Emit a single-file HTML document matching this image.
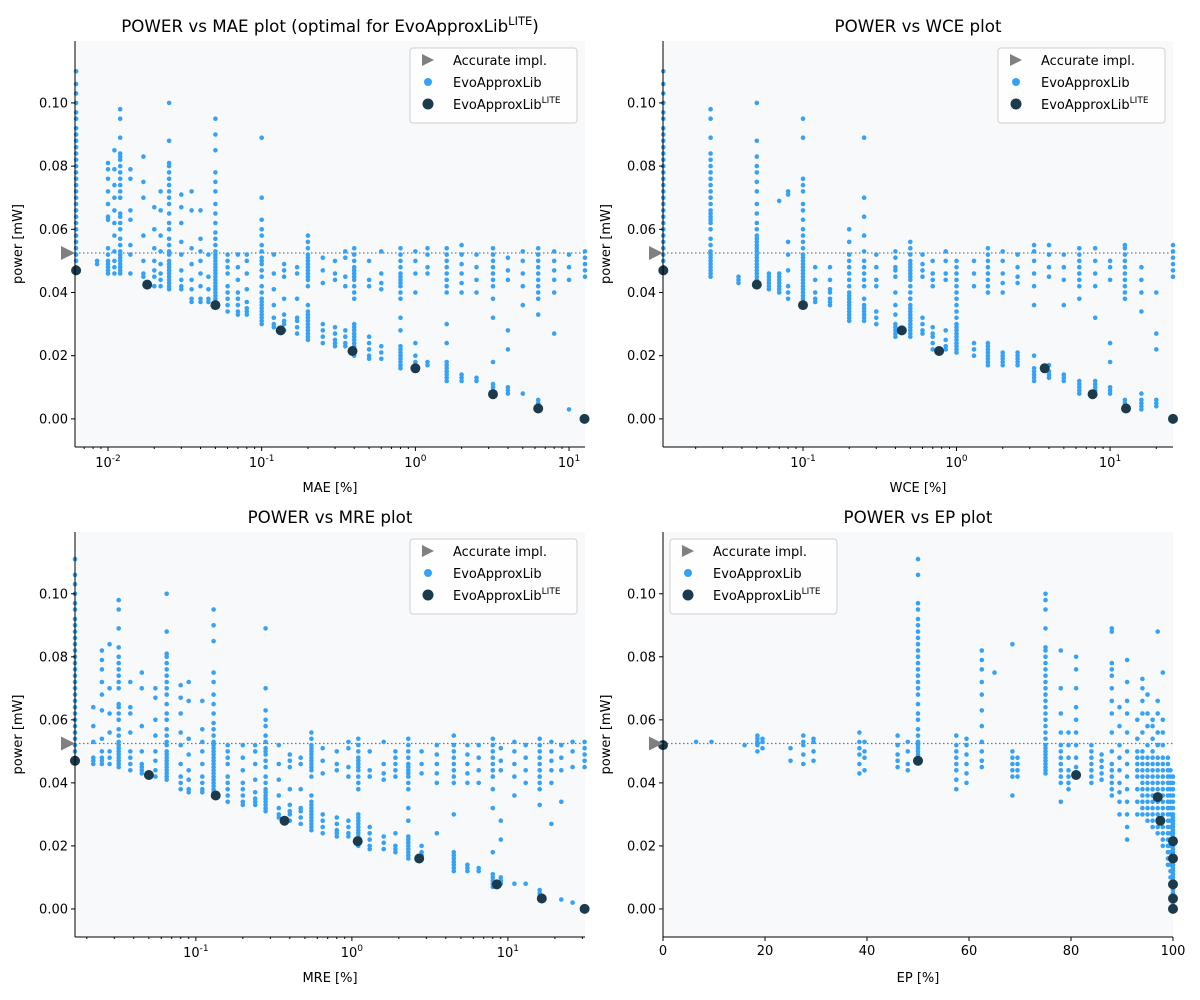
<!DOCTYPE html>
<html><head><meta charset="utf-8"><style>
html,body{margin:0;padding:0;background:#fff;}
svg{display:block;font-family:"DejaVu Sans","Liberation Sans",sans-serif;}
</style></head><body>
<svg id="fig" width="1200" height="1000" viewBox="0 0 1200 1000" xmlns="http://www.w3.org/2000/svg"></svg>
<script>
const yTicks = [0.00, 0.02, 0.04, 0.06, 0.08, 0.10];
const accuratePower = 0.0525;

const maeX = [0.0062,0.0085,0.01,0.011,0.012,0.014,0.017,0.02,0.022,0.025,0.03,0.035,0.04,0.045,0.05,0.06,0.07,0.08,0.1,0.12,0.14,0.17,0.2,0.25,0.3,0.35,0.4,0.5,0.6,0.8,1.0,1.2,1.6,2.0,2.5,3.2,4,5,6.3,8,10,12.7];
const maeP = [
[47,48,50,52,54,56,58,60,62,64,66,68,70,72,74,76,78,80,82,84,86,88,90,92,95,97,100,103,106,110],
[49,50],
[46,47,48,49,50,52,54,63,64,68,72,76,79,81],
[46,48,50,53,58,62,66,70,74,79,85],
[46,47,48,49,50,51,52,53,55,57,60,62,64,65,70,72,74,76,78,80,82,83,84,89,95,98],
[46,52,55,63,66,76,79],
[45,46,50,58,70,75,83],
[42,45,47,50,54,60,67],
[42,44,46,49,53,58,66,72],
[41,42,43,44,45,46,47,48,49,50,52,53,55,57,60,62,65,68,70,72,74,76,78,80,81,88,100],
[41,42,44,47,52,56,62,67,71],
[37,38,41,44,49,54,66,72],
[37,38,42,46,50,53,57,66],
[37,38,41,45,52],
[36,37,38,39,40,41,42,43,44,45,46,47,48,49,50,51,52,53,55,57,59,62,65,68,72,75,78,85,90,95],
[34,36,38,40,42,46,48,50,52],
[33,34,36,38,40,44,48,52],
[33,34,35,37,41,46,50,52],
[30,31,32,33,34,35,36,37,38,40,42,45,47,49,50,51,53,55,58,60,63,70,89],
[29,30,32,36,41,46,52],
[28,30,31,33,38,45,47,49],
[27,29,31,32,38,46,48],
[25,26,27,28,29,30,31,32,33,34,36,42,44,45,46,47,48,49,50,51,52,54,56,58],
[24,26,28,30,43,47,51],
[23,24,25,27,29,44,46,50],
[23,24,26,28,42,45,51,53],
[20,21,22,23,24,25,26,27,28,29,30,38,40,42,44,45,46,47,48,50,52,54],
[19,20,22,24,26,42,44,50],
[19,21,23,41,43,46,53],
[16,17,18,19,20,21,22,23,28,32,38,40,42,43,44,45,46,48,50,52,54],
[16,18,20,24,40,46,50,53],
[17,18,46,48,52,54],
[12,13,14,15,16,17,18,24,30,40,42,44,46,48,50,52,54],
[12,13,14,40,43,46,49,52,55],
[12,13,40,44,48,52],
[7,8,9,10,11,18,32,38,42,44,46,48,50,52,54],
[8,9,10,22,28,44,47,51],
[8,36,42,46,50,53],
[3,4,5,6,33,38,40,42,44,46,48,50,52,54],
[27,40,44,47,50,53],
[3,44,48,52],
[0,45,47,49,51,53]];
const maeLiteX = [0.0062,0.018,0.05,0.133,0.39,1.0,3.2,6.3,12.6];
const maeLiteP = [47,42.5,36,28,21.5,16,7.8,3.3,0];

const wceX = [0.0123,0.025,0.038,0.05,0.06,0.07,0.08,0.1,0.12,0.15,0.2,0.25,0.3,0.4,0.5,0.6,0.7,0.85,1.0,1.3,1.6,2.0,2.5,3.2,4,5,6.3,8,10,12.5,16,20,25.7];
const wceP = [
[47,48,50,52,54,56,58,60,62,64,66,68,70,72,74,76,78,80,82,84,86,88,90,92,95,97,100,103,106,110],
[45,46,47,48,49,50,51,52,53,55,57,60,62,63,64,65,66,68,70,72,74,76,78,80,82,84,89,95,98],
[43,44,45],
[42,43,44,45,46,47,48,49,50,51,52,53,54,55,56,57,58,60,62,65,68,72,75,78,80,83,88,100],
[41,42,43,44,45,46],
[40,41,42,43,44,45,46,69],
[38,40,42,47,52,56,71,72],
[36,37,38,39,40,41,42,43,44,45,46,47,48,49,50,51,52,54,56,58,60,63,66,68,72,74,76,89,95],
[37,38,40,44,48],
[36,37,38,40,41,44,48],
[31,32,33,34,35,36,37,38,39,40,42,44,46,48,50,52,56,60],
[31,32,33,34,35,36,38,42,44,46,48,50,53,58,64,70,89],
[30,32,34,42,44,48,52],
[26,27,28,29,30,33,36,40,45,47,48,51,53],
[26,27,28,29,30,31,32,33,34,35,36,38,40,42,44,45,46,47,48,49,50,52,54,56],
[27,28,30,32,45,47,49,52],
[22,24,26,27,29,42,44,46,50],
[22,23,25,28,44,46,50,53],
[21,22,23,24,25,26,27,28,29,30,32,34,36,38,40,42,44,46,48,50],
[20,22,24,42,46,50],
[17,18,19,20,21,22,23,24,40,42,44,46,48,50,52,54],
[17,18,19,20,21,40,43,46,50,53],
[17,18,19,20,21,43,45,48,52],
[12,13,14,15,16,20,36,42,46,50,53,55],
[13,14,15,17,45,48,52,55],
[12,13,14,36,44,48,52],
[8,9,10,11,12,38,42,44,46,48,50,52,54],
[8,9,10,11,12,32,42,46,50,54],
[8,9,10,18,24,44,48,50],
[3,4,5,6,38,40,42,44,46,48,50,52,54,55],
[3,4,5,6,8,34,40,44,48],
[4,5,6,22,27,40],
[0,45,47,49,51,53,55]];
const wceLiteX = [0.0123,0.05,0.1,0.44,0.77,3.75,7.7,12.7,25.7];
const wceLiteP = [47,42.5,36,28,21.5,16,7.8,3.3,0];

const mreX = [0.0168,0.022,0.025,0.028,0.032,0.038,0.045,0.055,0.065,0.08,0.09,0.11,0.13,0.16,0.2,0.24,0.28,0.34,0.4,0.47,0.55,0.65,0.8,0.95,1.1,1.3,1.6,1.9,2.3,2.8,3.5,4.5,5.5,6.5,8,9,11,13,16,19,22,26,31];
const mreP = [
[47,48,50,52,54,56,58,60,62,64,66,68,70,72,74,76,78,80,82,84,86,88,90,92,95,97,100,103,106,111],
[46,47,48,53,58,64],
[46,47,48,50,54,63,68,72,76,79,82],
[46,48,50,56,62,70,84],
[45,46,47,48,49,50,51,52,53,55,57,60,62,64,65,70,72,74,76,78,80,83,89,95,98],
[44,46,48,50,56,62,64,72],
[43,44,45,46,50,58,70,75],
[42,44,47,50,55,60,67,70],
[41,42,43,44,45,46,47,48,49,50,52,53,55,57,60,62,65,68,70,72,74,76,78,80,81,88,100],
[38,40,42,46,52,56,62,67,71],
[37,38,41,44,49,54,66,72],
[37,38,40,42,46,50,53,57,66],
[36,37,38,39,40,41,42,43,44,45,46,47,48,49,50,51,52,53,55,57,59,62,65,68,72,75,85,90,95],
[34,36,38,40,42,46,48,50,52],
[33,34,36,38,40,44,48,52],
[33,34,35,37,41,46,50,52],
[31,32,33,34,35,36,37,38,40,42,45,47,49,50,51,53,55,58,60,63,70,89],
[29,30,32,36,41,46,52],
[28,30,31,33,38,45,47,49],
[27,29,31,32,38,46,48],
[25,26,27,28,29,30,31,32,33,34,36,42,44,45,46,47,48,49,50,51,52,54,56],
[24,26,28,30,43,47,51],
[23,24,25,27,29,44,46,50],
[23,24,26,28,42,45,51,53],
[20,21,22,23,24,25,26,27,28,29,30,38,40,42,44,45,46,47,48,50,52,54],
[19,20,22,24,26,42,44,50],
[19,21,23,41,43,46,53],
[18,19,20,24,42,44,46,48,50],
[16,17,18,19,20,21,22,23,28,32,38,40,42,43,44,45,46,48,50,52,54],
[17,18,20,43,46,50],
[24,40,43,46,49,52],
[12,13,14,15,16,17,18,30,40,42,44,46,48,50,52,55],
[12,13,14,40,43,46,49,52],
[12,13,40,44,48,52],
[7,8,9,10,11,18,32,38,42,44,46,48,50,52,54],
[8,9,10,22,28,44,47,51],
[8,36,42,46,50,53],
[8,40,44,48,52],
[3,4,5,6,33,38,40,42,44,46,48,50,52,54],
[27,40,44,47,50,53],
[3,34,44,48,52],
[2,45,50,53],
[0,45,47,49,51,53]];
const mreLiteX = [0.0168,0.05,0.134,0.37,1.09,2.7,8.5,16.5,31];
const mreLiteP = [47,42.5,36,28,21.5,16,7.8,3.3,0];

const epX = [0,6.5,9.5,16,18.5,19.5,25,27.5,29.5,38.5,39.5,46,48,50,57.5,59.5,62.5,65,68.5,69.5,75,78,79.5,81,84,86,88,89.5,91,93,94,95,96,97,98,99,99.5,100];
const epP = [
[52],[53],[53],[52],
[50,52,53,54,55],[51,53,54],
[47,51],[46,49,52,53,55],[47,50,53,54],
[43,46,49,51,53,56],[44,48,50,53],
[45,47,49,52,55],[44,46,50,53],
[47,48,49,50,51,52,53,55,57,60,62,65,68,70,72,74,76,78,80,82,84,86,88,90,92,95,97,106,111],
[38,41,44,46,48,50,52,55],[40,43,46,49,52,54],
[45,47,50,53,58,63,68,72,76,79,82],
[75],
[36,42,44,46,48,50,84],[42,44,46,48],
[43,44,45,46,47,48,49,50,51,52,54,56,58,60,62,64,66,68,70,72,74,76,78,80,82,83,89,95,98,100],
[34,40,42,44,46,48,50,52,56,62,70,82],[38,40,42,44,48,52,56],
[43,45,48,52,56,60,64,70,76,80],
[40,42,44,46,48,50,52],[41,43,45,47,49],
[36,38,40,42,44,46,50,56,62,66,70,74,76,78,88,89],
[30,34,37,40,44,48,52,58,64],
[22,26,30,34,38,42,46,50,56,62,66,72,79],
[30,34,38,42,44,46,48,50,54,60],
[30,32,34,36,38,40,42,44,46,48,50,56,62,66,70,73],
[28,30,32,34,36,38,40,42,44,46,48,52,58,62,68],
[26,28,30,32,34,36,38,40,42,44,46,48,50,54,58,60],
[24,26,28,30,32,34,36,38,40,42,44,46,48,52,56,62,66,88],
[20,22,24,26,28,30,32,34,36,38,40,42,44,46,48,52,56,60,75],
[14,16,18,20,22,24,26,28,30,32,34,36,38,40,42,44,46,48],
[10,12,14,16,18,20,22,24,26,28,30,32,34,36,38,40,42,44],
[0,1,2,3,4,5,6,7,8,9,10,11,12,13,14,15,16,17,18,19,20,21,22,23,24,25,26,27,28,29,30,32,34,36,38,40,42]];
const epLiteX = [0,50,81,97,97.5,100,100,100,100,100];
const epLiteP = [52,47,42.5,35.5,28,21.5,16,7.8,3.3,0];

const NS = 'http://www.w3.org/2000/svg';
const fig = document.getElementById('fig');
const BLUE = '#36a2f5', DARK = '#1b3a4b';
const Y0 = -0.0089, Y1 = 0.1196;
function mk(tag, attrs, parent) {
  const e = document.createElementNS(NS, tag);
  for (const k in attrs) e.setAttribute(k, attrs[k]);
  (parent || fig).appendChild(e);
  return e;
}
function panel(cfg) {
  const g = mk('g', {});
  
  
  const {L, T, W, H} = cfg;
  const yS = v => T + H - (v - Y0) / (Y1 - Y0) * H;
  const xS = cfg.log
    ? v => L + (Math.log10(v) - Math.log10(cfg.x0)) / (Math.log10(cfg.x1) - Math.log10(cfg.x0)) * W
    : v => L + (v - cfg.x0) / (cfg.x1 - cfg.x0) * W;
  const bg = mk('rect', {x: L, y: T, width: W, height: H, fill: '#f8f9fb'}, g);
  
  
  const al = mk('line', {x1: L, x2: L + W, y1: yS(accuratePower), y2: yS(accuratePower), stroke: '#777', 'stroke-width': 1.3, 'stroke-dasharray': '1.5,2.5'}, g);
  
  
  const pts = mk('g', {fill: BLUE}, g);
  
  
  cfg.xs.forEach((x, i) => {
    cfg.ps[i].forEach(p => {
      const c = mk('circle', {cx: xS(x).toFixed(1), cy: yS(p / 1000).toFixed(1), r: 2.3}, pts);
      
      
    });
  });
  const lite = mk('g', {fill: DARK}, g);
  
  
  cfg.lx.forEach((x, i) => {
    const c = mk('circle', {cx: xS(x).toFixed(1), cy: yS(cfg.lp[i] / 1000).toFixed(1), r: 5}, lite);
    
    
  });
  const ay = yS(accuratePower);
  const tri = mk('polygon', {points: `${L-14},${ay-7} ${L},${ay} ${L-14},${ay+7}`, fill: '#808080'}, g);
  
  
  mk('line', {x1: L, x2: L, y1: T, y2: T + H, stroke: '#000', 'stroke-width': 1}, g);
  mk('line', {x1: L, x2: L + W, y1: T + H, y2: T + H, stroke: '#000', 'stroke-width': 1}, g);
  yTicks.forEach(v => {
    const y = yS(v);
    mk('line', {x1: L - 4, x2: L, y1: y, y2: y, stroke: '#000'}, g);
    const t = mk('text', {x: L - 7, y: y + 4.5, 'text-anchor': 'end', 'font-size': 13}, g);
    t.textContent = v.toFixed(2);
    
    
  });
  const by = T + H;
  if (cfg.log) {
    for (let d = Math.floor(Math.log10(cfg.x0)); d <= Math.ceil(Math.log10(cfg.x1)); d++) {
      for (let m = 1; m < 10; m++) {
        const v = m * Math.pow(10, d);
        if (v < cfg.x0 || v > cfg.x1) continue;
        const x = xS(v);
        mk('line', {x1: x, x2: x, y1: by, y2: by + (m === 1 ? 4 : 2), stroke: '#000'}, g);
        if (m === 1) {
          const t = mk('text', {x: x, y: by + 20, 'text-anchor': 'middle', 'font-size': 13}, g);
          
          
          t.appendChild(document.createTextNode('10'));
          const s = mk('tspan', {dy: -6, 'font-size': 9}, t);
          s.textContent = String(d);
        }
      }
    }
  } else {
    cfg.ticks.forEach(v => {
      const x = xS(v);
      mk('line', {x1: x, x2: x, y1: by, y2: by + 4, stroke: '#000'}, g);
      const t = mk('text', {x: x, y: by + 18, 'text-anchor': 'middle', 'font-size': 13}, g);
      t.textContent = String(v);
      
      
    });
  }
  const xl = mk('text', {x: L + W / 2, y: by + 45, 'text-anchor': 'middle', 'font-size': 13}, g);
  xl.textContent = cfg.xlabel;
  
  
  const yl = mk('text', {x: 0, y: 0, 'text-anchor': 'middle', 'font-size': 13, transform: `translate(${L-53},${T+H/2}) rotate(-90)`}, g);
  yl.textContent = 'power [mW]';
  
  
  const ti = mk('text', {x: L + W / 2, y: T - 9, 'text-anchor': 'middle', 'font-size': 16.7}, g);
  
  
  ti.appendChild(document.createTextNode(cfg.title));
  if (cfg.titleLite) {
    const s = mk('tspan', {dy: -7, 'font-size': 11.5}, ti);
    s.textContent = 'LITE';
    const e = mk('tspan', {dy: 7}, ti);
    e.textContent = ')';
  }
  const lx = cfg.legLeft ? L + 7 : L + W - 175, ly = T + 7;
  const lg = mk('g', {}, g);
  
  
  mk('rect', {x: lx, y: ly, width: 167, height: 75, rx: 3, fill: '#fff', 'fill-opacity': 0.85, stroke: '#d0d0d0'}, lg);
  const entries = [['Accurate impl.', 'tri'], ['EvoApproxLib', 'blue'], ['EvoApproxLib', 'dark']];
  entries.forEach((en, i) => {
    const cy = ly + 12 + i * 22;
    const cx = lx + 18;
    if (en[1] === 'tri') mk('polygon', {points: `${cx-6},${cy-6} ${cx+6},${cy} ${cx-6},${cy+6}`, fill: '#808080'}, lg);
    else mk('circle', {cx: cx, cy: cy, r: en[1] === 'blue' ? 4 : 5.5, fill: en[1] === 'blue' ? BLUE : DARK}, lg);
    const t = mk('text', {x: lx + 43, y: cy + 5, 'font-size': 13}, lg);
    
    
    t.appendChild(document.createTextNode(en[0]));
    if (en[1] === 'dark') {
      const s = mk('tspan', {dy: -6, 'font-size': 9}, t);
      s.textContent = 'LITE';
    }
  });
}
panel({name: 'mae', L: 75, T: 41, W: 510, H: 406, log: true, x0: 0.0061, x1: 12.7, xs: maeX, ps: maeP, lx: maeLiteX, lp: maeLiteP, xlabel: 'MAE [%]', title: 'POWER vs MAE plot (optimal for EvoApproxLib', titleLite: true});
panel({name: 'wce', L: 663, T: 41, W: 510, H: 406, log: true, x0: 0.01225, x1: 25.7, xs: wceX, ps: wceP, lx: wceLiteX, lp: wceLiteP, xlabel: 'WCE [%]', title: 'POWER vs WCE plot'});
panel({name: 'mre', L: 75, T: 532, W: 510, H: 405, log: true, x0: 0.0168, x1: 31.2, xs: mreX, ps: mreP, lx: mreLiteX, lp: mreLiteP, xlabel: 'MRE [%]', title: 'POWER vs MRE plot'});
panel({name: 'ep', L: 663, T: 532, W: 510, H: 405, log: false, x0: 0, x1: 100, ticks: [0,20,40,60,80,100], xs: epX, ps: epP, lx: epLiteX, lp: epLiteP, xlabel: 'EP [%]', title: 'POWER vs EP plot', legLeft: true});
</script>
</body></html>
